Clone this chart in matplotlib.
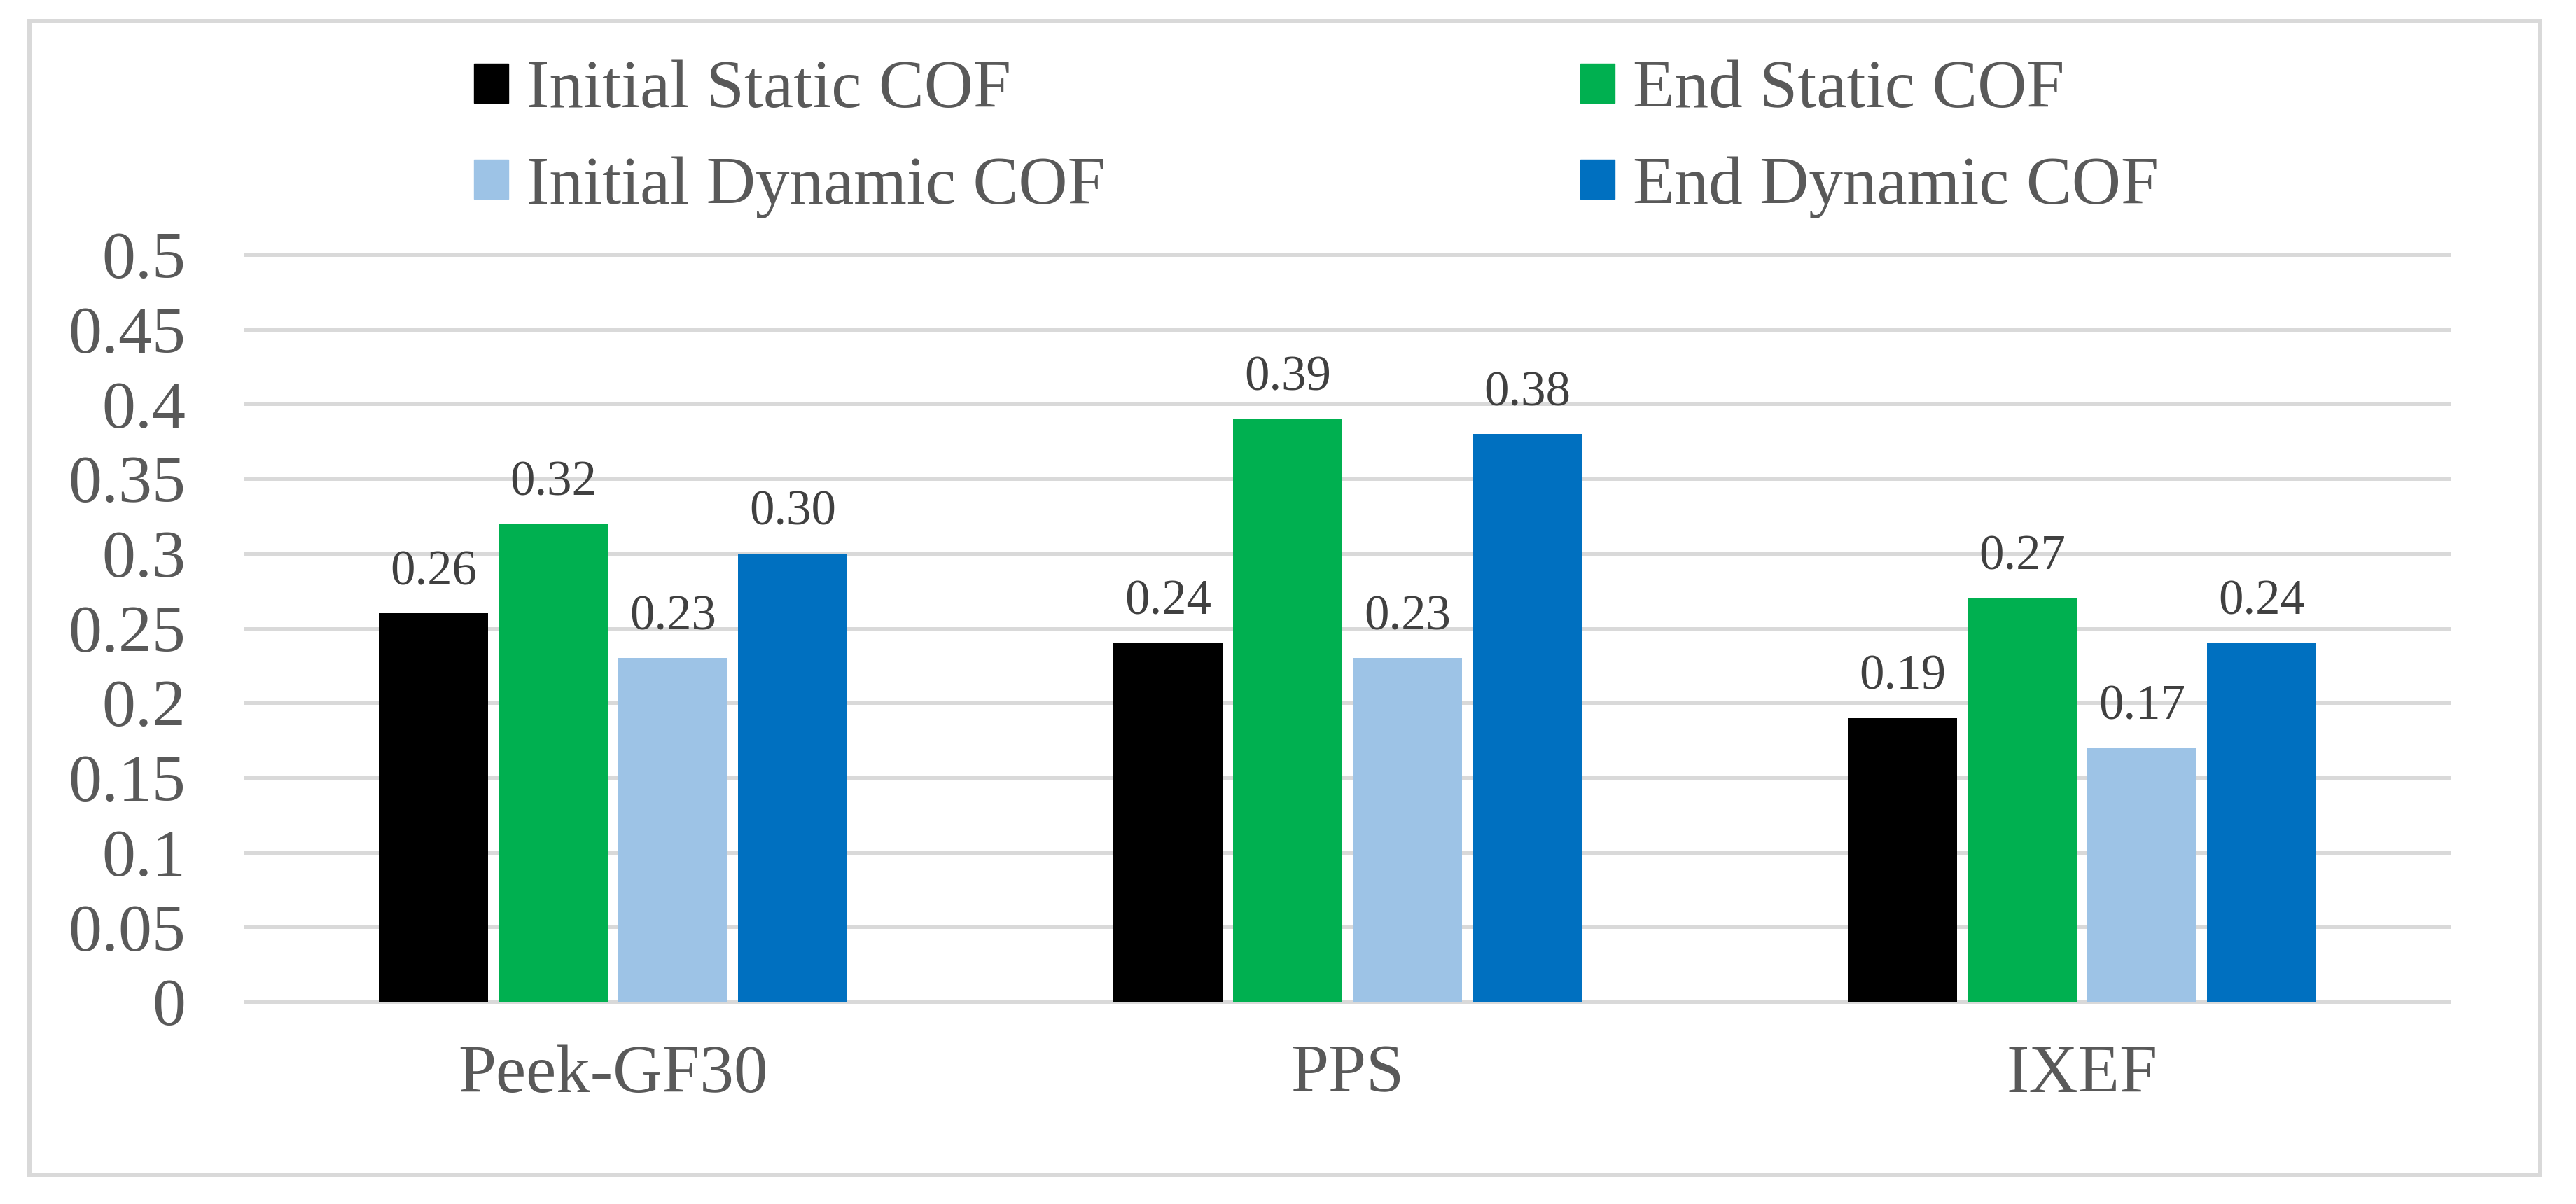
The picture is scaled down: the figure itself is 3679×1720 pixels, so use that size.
import matplotlib
matplotlib.use('Agg')
import numpy as np
import matplotlib.pyplot as plt
from matplotlib.patches import Rectangle, Patch

# data
materials = ['Peek-GF30', 'PPS', 'IXEF']
initial_static = [0.26, 0.24, 0.19]
end_static = [0.32, 0.39, 0.27]
initial_dynamic = [0.23, 0.23, 0.17]
end_dynamic = [0.30, 0.38, 0.24]
yticks = [0, 0.05, 0.1, 0.15, 0.2, 0.25, 0.3, 0.35, 0.4, 0.45, 0.5]
ytick_labels = ['0', '0.05', '0.1', '0.15', '0.2', '0.25', '0.3', '0.35', '0.4', '0.45', '0.5']

series = [
    ('Initial Static COF', initial_static, '#000000'),
    ('End Static COF', end_static, '#00B050'),
    ('Initial Dynamic COF', initial_dynamic, '#9DC3E6'),
    ('End Dynamic COF', end_dynamic, '#0070C0'),
]

plt.rcParams['font.family'] = ['Liberation Serif', 'DejaVu Serif']

W, H, DPI = 3679, 1720, 100
fig = plt.figure(figsize=(W / DPI, H / DPI), dpi=DPI)

# outer light-gray frame
fig.patches.append(Rectangle((42 / W, 1 - 1679 / H), (3628 - 42) / W, (1679 - 30) / H,
                             transform=fig.transFigure, fill=False,
                             edgecolor='#D9D9D9', linewidth=4.3))

ax = fig.add_axes([351 / W, 1 - 1431 / H, (3498 - 351) / W, (1431 - 364) / H])

x = np.arange(len(materials))
bw = 0.1487
step = 0.163
for i, (name, vals, col) in enumerate(series):
    pos = x + (i - 1.5) * step
    bars = ax.bar(pos, vals, width=bw, color=col, label=name, zorder=3)
    for b, v in zip(bars, vals):
        ax.annotate(f'{v:.2f}', (b.get_x() + b.get_width() / 2, v),
                    xytext=(0, 29.5), textcoords='offset points',
                    ha='center', va='baseline', fontsize=51, color='#404040')

ax.set_xlim(-0.5, len(materials) - 0.5)
ax.set_ylim(0, 0.5)
ax.set_yticks(yticks)
ax.set_yticklabels(ytick_labels)
ax.set_xticks(x)
ax.set_xticklabels(materials)
ax.tick_params(axis='y', length=0, pad=62, labelsize=69, labelcolor='#595959')
ax.tick_params(axis='x', length=0, pad=44, labelsize=70, labelcolor='#595959')
for s in ax.spines.values():
    s.set_visible(False)
ax.set_axisbelow(True)
ax.yaxis.grid(True, color='#D9D9D9', linewidth=3.6)
for gl in ax.get_ygridlines():
    gl.set_clip_on(False)

# legend: two columns placed like the original
handles = [Patch(color=c, label=n) for n, _, c in series]
leg_kw = dict(frameon=False, fontsize=70, handlelength=0.5, handleheight=0.5,
              handletextpad=0.27, labelspacing=0.5, borderpad=0, borderaxespad=0,
              labelcolor='#595959', loc='upper left')
leg1 = fig.legend([handles[0], handles[2]], [series[0][0], series[2][0]],
                  bbox_to_anchor=(677 / W, 1 - 86 / H), **leg_kw)
leg2 = fig.legend([handles[1], handles[3]], [series[1][0], series[3][0]],
                  bbox_to_anchor=(2257 / W, 1 - 86 / H), **leg_kw)

fig.savefig('out.png', dpi=DPI)
